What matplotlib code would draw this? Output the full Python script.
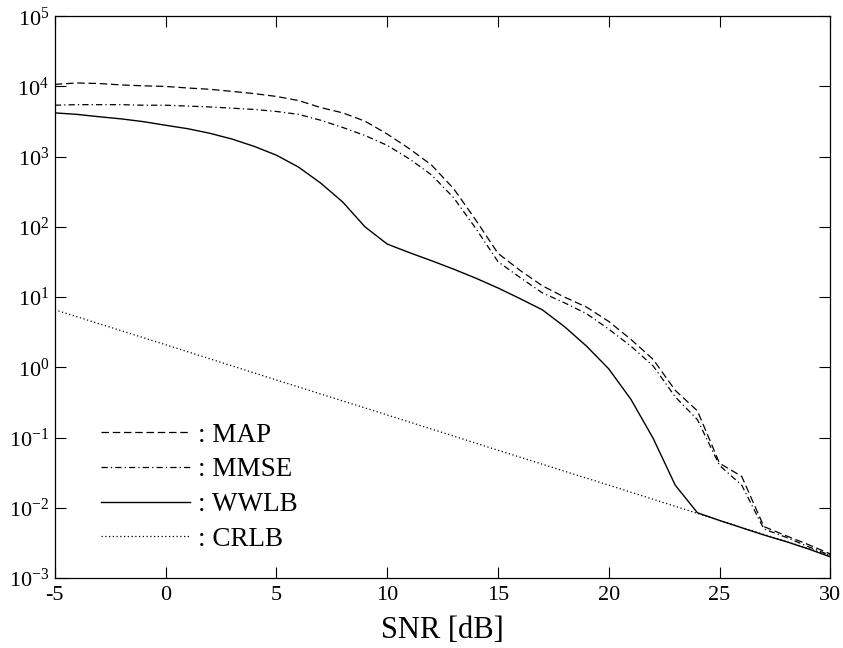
import numpy as np
import matplotlib
matplotlib.use("Agg")
import matplotlib.pyplot as plt
from matplotlib.ticker import FixedLocator, FuncFormatter

plt.rcParams['font.family'] = ['Liberation Serif', 'DejaVu Serif']
plt.rcParams['mathtext.fontset'] = 'custom'
plt.rcParams['mathtext.rm'] = 'Liberation Serif'
plt.rcParams['mathtext.it'] = 'Liberation Serif:italic'
plt.rcParams['axes.unicode_minus'] = False

# SNR grid (dB)
snr = list(range(-5, 31))

map_err = [10700, 11200, 11000, 10500, 10200, 10000, 9500, 9100, 8500, 7900,
           7200, 6300, 5000, 4200, 3200, 2100, 1300, 760, 350, 125,
           42, 24, 14.5, 10, 7.2, 4.5, 2.5, 1.3, 0.47, 0.24,
           0.043, 0.028, 0.0054, 0.004, 0.003, 0.0022]
mmse_err = [5400, 5500, 5500, 5500, 5400, 5400, 5250, 5100, 4900, 4700,
            4400, 4000, 3300, 2600, 2000, 1450, 930, 550, 260, 95,
            32, 19, 11.5, 8.3, 5.8, 3.5, 2.0, 1.05, 0.38, 0.18,
            0.04, 0.021, 0.005, 0.0038, 0.0028, 0.0021]
wwlb = [4200, 4000, 3700, 3450, 3150, 2800, 2500, 2150, 1780, 1400,
        1050, 710, 420, 225, 100, 57, 43, 33, 25, 18.6,
        13.5, 9.5, 6.6, 3.8, 2.0, 0.95, 0.35, 0.098, 0.021, 0.0085,
        0.0066, 0.0052, 0.0041, 0.0033, 0.0026, 0.002]

snr_crlb = [-5, 0, 5, 10, 15, 20, 25, 30]
crlb = [6.6, 2.1, 0.66, 0.21, 0.066, 0.021, 0.0066, 0.0021]

fig = plt.figure(figsize=(8.43, 6.48), dpi=100)
ax = fig.add_axes([0.065, 0.108, 0.92, 0.867])

ax.plot(snr, map_err, color='black', lw=0.9, linestyle=(0, (6, 3)), label=': MAP')
ax.plot(snr, mmse_err, color='black', lw=0.9, linestyle=(0, (5, 2.5, 1, 2.5)), label=': MMSE')
ax.plot(snr, wwlb, color='black', lw=1.0, linestyle='-', label=': WWLB')
ax.plot(snr_crlb, crlb, color='black', lw=0.9, linestyle=(0, (1, 2)), label=': CRLB')

ax.set_yscale('log')
ax.set_xlim(-5, 30)
ax.set_ylim(1e-3, 1e5)
ax.xaxis.set_major_locator(FixedLocator([-5, 0, 5, 10, 15, 20, 25, 30]))
ax.yaxis.set_major_locator(FixedLocator([10.0 ** e for e in range(-3, 6)]))
ax.yaxis.set_minor_locator(FixedLocator([]))
ax.yaxis.set_major_formatter(FuncFormatter(
    lambda v, p: '10$^{\\mathrm{%d}}$' % int(round(np.log10(v)))))
ax.tick_params(direction='in', length=8, width=0.8, top=True, right=True,
               labelsize=16, pad=6)
ax.tick_params(axis='y', pad=4)
for s in ax.spines.values():
    s.set_linewidth(0.9)

ax.set_xlabel('SNR [dB]', fontsize=22, labelpad=8)

leg = ax.legend(loc='lower left', bbox_to_anchor=(0.028, 0.003), frameon=False,
                fontsize=19.5, handlelength=3.3, handletextpad=0.3,
                labelspacing=0.36)

fig.savefig('out.png', dpi=100)
